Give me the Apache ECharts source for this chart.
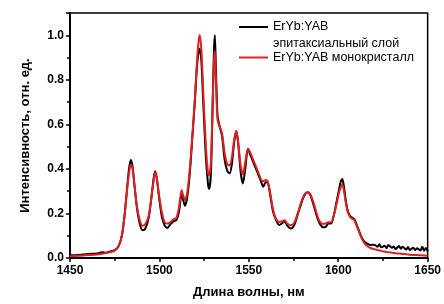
<!DOCTYPE html>
<html>
<head>
<meta charset="utf-8">
<script src="https://cdn.jsdelivr.net/npm/echarts@6/dist/echarts.min.js"></script>
<style>
  html, body { margin: 0; padding: 0; background: #fff; }
  #chart { width: 444px; height: 304px; }
</style>
</head>
<body>
<div id="chart"></div>
<script>
// длина волны, нм
var wavelengths = [
  1450, 1455, 1460, 1465, 1468, 1470, 1473, 1475, 1477, 1479,
  1480.5, 1482, 1483, 1484, 1485, 1486, 1487.5, 1489, 1490.5, 1492,
  1494, 1495.5, 1496.8, 1497.6, 1498.5, 1500, 1501.5, 1503, 1504.5, 1506,
  1508, 1509.5, 1511, 1512.4, 1513.3, 1514.3, 1515.5, 1517, 1518.5, 1519.8,
  1521, 1522, 1522.6, 1523.5, 1524.5, 1526, 1527.2, 1527.8, 1528.8, 1529.8,
  1530.5, 1531, 1531.6, 1532.5, 1533.7, 1535, 1536.5, 1538, 1539.3, 1540.5,
  1541.8, 1543, 1544, 1545.5, 1546.7, 1548, 1549.5, 1551, 1552.5, 1554,
  1555.5, 1557, 1558, 1559.5, 1560.5, 1562, 1563.5, 1565, 1567, 1568.5,
  1570, 1571.5, 1573.5, 1575.5, 1577.5, 1579.5, 1581, 1582.9, 1584.5, 1586.5,
  1588.5, 1590, 1591.5, 1593, 1594.5, 1596, 1597.5, 1599, 1600.5, 1601.5,
  1602.3, 1603.2, 1604.2, 1605.2, 1606.5, 1608, 1609, 1610, 1611.5, 1613,
  1614.5, 1616, 1618, 1620, 1622, 1623, 1624, 1626, 1627, 1628,
  1630, 1631, 1632, 1634, 1635, 1636, 1638, 1639, 1640, 1642,
  1643, 1644, 1646, 1647, 1648, 1649, 1650
];

// ErYb:YAB эпитаксиальный слой
var epiLayer = [
  0.012, 0.014, 0.018, 0.020, 0.026, 0.024, 0.030, 0.036, 0.05, 0.10,
  0.19, 0.32, 0.40, 0.44, 0.41, 0.33, 0.22, 0.155, 0.125, 0.13,
  0.18, 0.27, 0.36, 0.39, 0.36, 0.26, 0.18, 0.145, 0.135, 0.15,
  0.165, 0.17, 0.21, 0.29, 0.26, 0.235, 0.27, 0.38, 0.55, 0.70,
  0.86, 0.93, 0.94, 0.88, 0.70, 0.45, 0.33, 0.31, 0.38, 0.70,
  0.93, 1.0, 0.85, 0.64, 0.59, 0.55, 0.44, 0.39, 0.38, 0.42,
  0.52, 0.57, 0.52, 0.38, 0.335, 0.40, 0.49, 0.46, 0.43, 0.40,
  0.37, 0.34, 0.32, 0.34, 0.34, 0.28, 0.21, 0.175, 0.148, 0.155,
  0.165, 0.145, 0.132, 0.15, 0.20, 0.25, 0.28, 0.295, 0.28, 0.23,
  0.175, 0.15, 0.138, 0.14, 0.155, 0.155, 0.19, 0.25, 0.31, 0.345,
  0.355, 0.32, 0.26, 0.215, 0.19, 0.18, 0.175, 0.155, 0.125, 0.095,
  0.075, 0.066, 0.058, 0.060, 0.050, 0.062, 0.048, 0.055, 0.044, 0.058,
  0.046, 0.052, 0.040, 0.054, 0.042, 0.050, 0.038, 0.049, 0.036, 0.046,
  0.035, 0.044, 0.034, 0.050, 0.033, 0.045, 0.030
];

// ErYb:YAB монокристалл
var monoCrystal = [
  0.008, 0.010, 0.013, 0.016, 0.019, 0.022, 0.027, 0.033, 0.05, 0.10,
  0.19, 0.31, 0.38, 0.42, 0.40, 0.33, 0.23, 0.17, 0.145, 0.15,
  0.19, 0.27, 0.35, 0.385, 0.36, 0.27, 0.20, 0.16, 0.155, 0.16,
  0.175, 0.18, 0.23, 0.305, 0.28, 0.26, 0.29, 0.40, 0.56, 0.71,
  0.88, 0.98, 1.0, 0.93, 0.75, 0.50, 0.38, 0.37, 0.43, 0.70,
  0.88, 0.93, 0.80, 0.62, 0.59, 0.56, 0.47, 0.42, 0.415, 0.45,
  0.53, 0.57, 0.52, 0.41, 0.375, 0.43, 0.49, 0.47, 0.44, 0.41,
  0.38, 0.35, 0.345, 0.35, 0.345, 0.29, 0.22, 0.18, 0.162, 0.165,
  0.17, 0.155, 0.147, 0.16, 0.205, 0.255, 0.285, 0.295, 0.285, 0.24,
  0.185, 0.16, 0.153, 0.155, 0.16, 0.16, 0.19, 0.24, 0.295, 0.32,
  0.33, 0.30, 0.25, 0.21, 0.185, 0.175, 0.17, 0.15, 0.12, 0.09,
  0.068, 0.055, 0.045, 0.040, 0.036, 0.034, 0.032, 0.029, 0.027, 0.026,
  0.024, 0.022, 0.021, 0.020, 0.019, 0.018, 0.017, 0.016, 0.015, 0.014,
  0.014, 0.013, 0.012, 0.012, 0.011, 0.011, 0.010
];

var xTicks = [1450, 1500, 1550, 1600, 1650];
var yTicks = [0.0, 0.2, 0.4, 0.6, 0.8, 1.0];

var nameEpi = 'ErYb:YAB эпитаксиальный слой';
var nameMono = 'ErYb:YAB монокристалл';

function pairs(xs, ys) {
  var out = [];
  for (var i = 0; i < xs.length; i++) out.push([xs[i], ys[i]]);
  return out;
}

var chart = echarts.init(document.getElementById('chart'));
var font = 'Liberation Sans, Arial, sans-serif';

var option = {
  animation: false,
  backgroundColor: '#fff',
  textStyle: { fontFamily: font },
  grid: {
    left: 70, right: 15, top: 13, bottom: 45,
    show: true, borderColor: '#000', borderWidth: 1.5
  },
  legend: {
    orient: 'vertical',
    left: 239, top: 4,
    padding: 0,
    itemGap: 1,
    itemWidth: 29, itemHeight: 2,
    icon: 'rect',
    data: [nameEpi, nameMono],
    formatter: function (name) {
      if (name === nameEpi) return '{t| }\n{t|ErYb:YAB}\n{t|эпитаксиальный слой}';
      return '{t|' + name + '}';
    },
    textStyle: {
      rich: { t: { fontSize: 12.5, lineHeight: 16.5, color: '#000', fontFamily: font } }
    }
  },
  xAxis: {
    type: 'value',
    min: xTicks[0], max: xTicks[xTicks.length - 1], interval: 50,
    name: 'Длина волны, нм',
    nameLocation: 'middle', nameGap: 28,
    nameTextStyle: { fontSize: 13, fontWeight: 'bold', color: '#000' },
    axisLine: { lineStyle: { color: '#000', width: 2 } },
    axisTick: { length: 4, lineStyle: { color: '#000', width: 1.5 } },
    minorTick: { show: true, splitNumber: 2, length: 3, lineStyle: { color: '#000', width: 1.5 } },
    splitLine: { show: false },
    axisLabel: {
      margin: 7, fontSize: 12, fontWeight: 'bold', color: '#000',
      formatter: function (v) { return String(v); }
    }
  },
  yAxis: {
    type: 'value',
    min: 0, max: 1.1, interval: 0.2,
    name: 'Интенсивность, отн. ед.',
    nameLocation: 'middle', nameGap: 38,
    nameTextStyle: { fontSize: 13, fontWeight: 'bold', color: '#000' },
    axisLine: { show: true, lineStyle: { color: '#000', width: 2 } },
    axisTick: { show: true, length: 4, lineStyle: { color: '#000', width: 1.5 } },
    minorTick: { show: true, splitNumber: 2, length: 3, lineStyle: { color: '#000', width: 1.5 } },
    splitLine: { show: false },
    axisLabel: {
      margin: 6, fontSize: 12, fontWeight: 'bold', color: '#000',
      showMaxLabel: false,
      formatter: function (v) { return v > 1.05 ? '' : v.toFixed(1); }
    }
  },
  series: [
    {
      name: nameEpi,
      type: 'line',
      data: pairs(wavelengths, epiLayer),
      showSymbol: false,
      smooth: 0.25,
      color: '#000',
      lineStyle: { color: '#000', width: 2 },
      z: 2
    },
    {
      name: nameMono,
      type: 'line',
      data: pairs(wavelengths, monoCrystal),
      showSymbol: false,
      smooth: 0.25,
      color: '#e02020',
      lineStyle: { color: '#e02020', width: 2 },
      z: 3
    }
  ]
};

chart.setOption(option);
</script>
</body>
</html>
